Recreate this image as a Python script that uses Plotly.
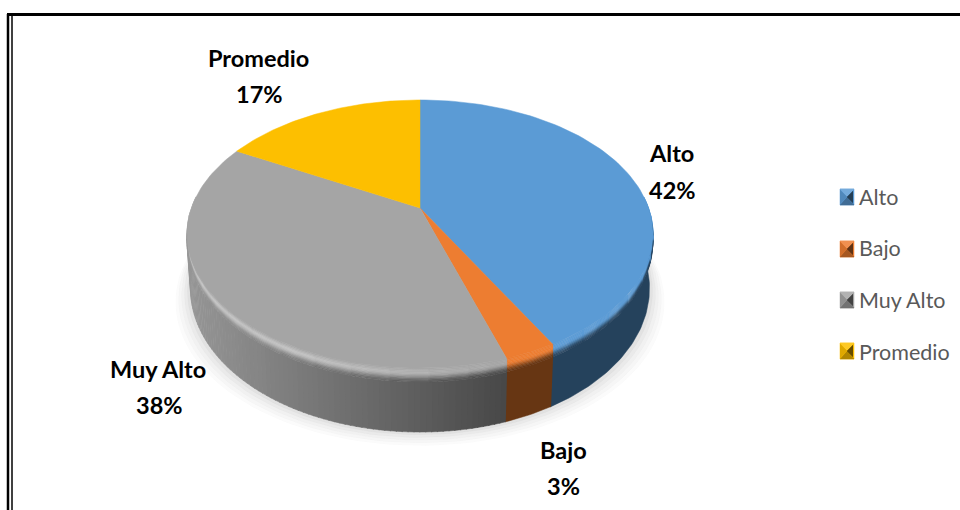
import numpy as np
import plotly.graph_objects as go

categories = ["Alto", "Bajo", "Muy Alto", "Promedio"]
values = [42, 3, 38, 17]
top_colors = ["#5b9bd5", "#ed7d31", "#a5a5a5", "#fdbf00"]
wall_colors = ["#25425c", "#673613", None, None]

CX, CY, A, B, K = 420.0, 208.0, 228.6, 129.0, 0.194


def hex_rgb(h):
    return np.array([int(h[i:i + 2], 16) for i in (1, 3, 5)], float)


def mix(c1, c2, t):
    c = hex_rgb(c1) * (1 - t) + hex_rgb(c2) * t
    return "#%02x%02x%02x" % tuple(int(v) for v in c.round())


def rim(deg):
    t = np.radians(deg)
    d = 1 + K * np.cos(t)
    return CX + A * np.sin(t) / d, CY - B * np.cos(t) / d


def bevel(deg):
    c = np.cos(np.radians(deg))
    return 5 + 9 * np.maximum(0, -c)


def depth(deg):
    c = np.cos(np.radians(deg))
    return 52 + 12 * np.maximum(0, -c)


def lowered(deg, s, x_scale=1.0):
    x, y = rim(deg)
    return CX + (x - CX) * x_scale, y + s


def poly(fig, x, y, color):
    fig.add_trace(go.Scatter(x=list(x), y=list(y), mode="lines", fill="toself", fillcolor=color,
                             line=dict(color=color, width=0.5), hoverinfo="skip", showlegend=False))


fig = go.Figure()

total = sum(values)
edges = np.concatenate([[0], np.cumsum(values)]) * 360.0 / total

# soft shadow under the near side
th = np.linspace(70, 290, 120)
for grow, alpha in [(15, .018), (12, .022), (9, .028), (6, .035), (3, .045)]:
    x, y = lowered(th, depth(th), 0.985)
    x = CX + (x - CX) * (1 + grow / 233.0)
    y = y + grow * 0.9
    poly(fig, x, y, "rgba(60,60,60,%.3f)" % alpha)


def gray_wall(x):
    t = np.clip((x - 187) / (505 - 187), 0, 1)
    return mix("#969696", "#484848", t)


def bevel_color(top, high, wall, f):
    if f < 0.35:
        return mix(top, high, f / 0.35)
    u = (f - 0.35) / 0.65
    return mix(high, wall, u * u * (3 - 2 * u))


STRIPS = 10
for i, cat in enumerate(categories):
    lo, hi = max(edges[i], 85), min(edges[i + 1], 275)
    if lo >= hi:
        continue
    top = top_colors[i]
    if wall_colors[i] is not None:
        seg = [lo, hi]
    else:
        seg = np.linspace(lo, hi, int((hi - lo) / 1.2) + 1)
    for a0, a1 in zip(seg[:-1], seg[1:]):
        arc = np.linspace(a0 - 0.1, a1 + 0.1, max(3, int(a1 - a0) + 3))
        xm, _ = rim((a0 + a1) / 2)
        wall = wall_colors[i] or gray_wall(xm)
        x1, y1 = lowered(arc, bevel(arc))
        x2, y2 = lowered(arc[::-1], depth(arc[::-1]), 0.985)
        poly(fig, np.r_[x1, x2], np.r_[y1, y2], wall)

    seg2 = np.linspace(lo, hi, max(2, int((hi - lo) / 8) + 1))
    for a0, a1 in zip(seg2[:-1], seg2[1:]):
        arc = np.linspace(a0 - 0.1, a1 + 0.1, 10)
        xm, _ = rim((a0 + a1) / 2)
        wall = wall_colors[i] or gray_wall(xm)
        if wall_colors[i] is None:
            high = mix("#c2c2c2", top, np.clip((xm - 300) / 200, 0, 1))
        else:
            high = top
        for s in range(STRIPS):
            f0, f1 = s / STRIPS, (s + 1) / STRIPS
            xa, ya = lowered(arc, f0 * bevel(arc))
            xb, yb = lowered(arc[::-1], f1 * bevel(arc[::-1]))
            poly(fig, np.r_[xa, xb], np.r_[ya, yb], bevel_color(top, high, wall, (f0 + f1) / 2))

# flat top wedges
for i, cat in enumerate(categories):
    arc = np.linspace(edges[i], edges[i + 1], 90)
    x, y = rim(arc)
    poly(fig, np.r_[CX, x, CX], np.r_[CY, y, CY], top_colors[i])

# legend entries (text) and bevelled key icons
ICON_L, ICON_R, ICON_H = 840, 854, 8
icon_y = [197, 249, 300, 351]
for i, cat in enumerate(categories):
    fig.add_trace(go.Scatter(x=[None], y=[None], mode="markers", name=cat, legendgroup=cat,
                             marker=dict(symbol="square", size=1, color="rgba(0,0,0,0)")))
    base = top_colors[i]
    xc, yc = (ICON_L + ICON_R) / 2, icon_y[i]
    t, b, l, r = yc - ICON_H, yc + ICON_H, ICON_L, ICON_R
    poly(fig, [l, r, r, l, l], [t, t, b, b, t], base)
    poly(fig, [l, r, xc], [t, t, yc], mix(base, "#ffffff", .15))
    poly(fig, [l, r, xc], [b, b, yc], mix(base, "#000000", .3))
    poly(fig, [l, xc, l], [t + 1, yc, b - 1], mix(base, "#000000", .12))
    poly(fig, [r - 1, xc, r - 1], [t + 2, yc, b - 2], mix(base, "#000000", .6))

frame = [(7, 14.5, 960, 14.5, 3), (8, 14, 8, 510, 2.5), (12, 14, 12, 510, 1.5)]
shapes = [dict(type="line", xref="x", yref="y", x0=a, y0=b, x1=c, y1=d,
               line=dict(color="#000000", width=w)) for a, b, c, d, w in frame]

label_font = dict(family="Lato", size=23.5, color="#000000")
labels = [("Promedio", 258, 58), ("17%", 259, 94), ("Alto", 671, 153), ("42%", 672, 190),
          ("Muy Alto", 158, 369), ("38%", 159, 405), ("Bajo", 563, 450), ("3%", 563, 486)]
annotations = [dict(x=x, y=y, xref="x", yref="y", showarrow=False, align="center",
                    text="<b>%s</b>" % n, font=label_font)
               for n, x, y in labels]

fig.update_layout(
    width=960, height=510, autosize=False,
    margin=dict(l=0, r=0, t=0, b=0),
    paper_bgcolor="#ffffff", plot_bgcolor="#ffffff",
    xaxis=dict(range=[0, 960], visible=False, fixedrange=True),
    yaxis=dict(range=[510, 0], visible=False, fixedrange=True),
    shapes=shapes, annotations=annotations,
    showlegend=True,
    legend=dict(x=819 / 960, y=1 - 176 / 510, xanchor="left", yanchor="top",
                font=dict(family="Lato", size=21.5, color="#595959"),
                tracegroupgap=20.6, itemwidth=30, bgcolor="rgba(0,0,0,0)"),
)
fig.write_html("out.html", config=dict(displayModeBar=False),
               post_script="document.body.style.margin='0';document.body.style.overflow='hidden';")
